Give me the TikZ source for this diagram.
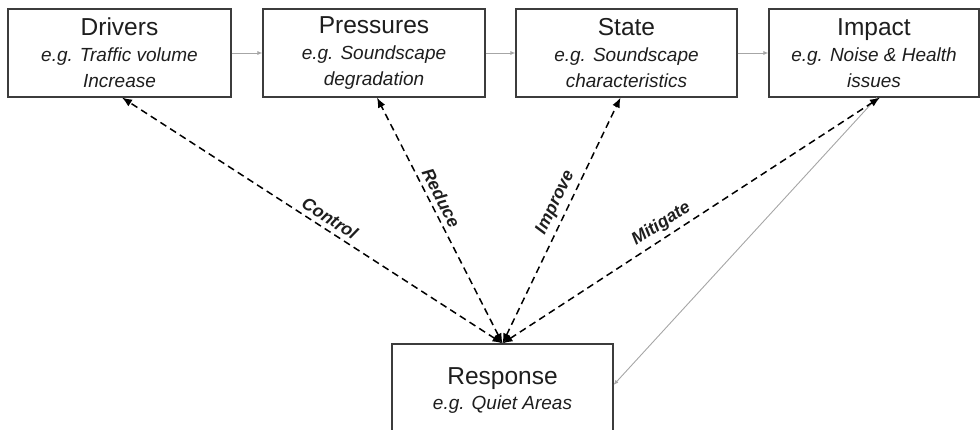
\documentclass[tikz,border=0pt]{standalone}
\usepackage{fontspec}
\setmainfont{Liberation Sans}
\usetikzlibrary{arrows.meta}
\definecolor{ink}{HTML}{1E1E1E}
\definecolor{frame}{HTML}{3C3C3C}
\definecolor{flowgray}{HTML}{A6A6A6}
\newcommand{\boxhead}[1]{{\upshape\fontsize{24.5}{26}\selectfont #1}}

\begin{document}
\begin{tikzpicture}[x=1pt,y=-1pt,
  dpsir/.style={draw=frame,line width=1.1pt,fill=white,text=ink,align=center,inner sep=0pt,
    minimum height=88pt,font=\fontsize{19}{26}\selectfont\itshape},
  flow/.style={draw=flowgray,line width=0.9pt,-{Latex[length=5pt,width=4pt]}},
  act/.style={draw=black,line width=1.5pt,dash pattern=on 7pt off 4.5pt,
    {Latex[length=10pt,width=8pt]}-{Latex[length=10pt,width=8pt]}},
  verb/.style={font=\fontsize{17.5}{19}\selectfont\bfseries\itshape,text=ink,sloped,above,inner sep=4.5pt}]
\useasboundingbox (0,0) rectangle (980,430);
% DPSIR boxes
\node[dpsir,minimum width=223pt] (drivers) at (119.5,53) {\boxhead{Drivers}\\e.g. Traffic volume\\Increase};
\node[dpsir,minimum width=222pt] (pressures) at (374,53) {\boxhead{Pressures}\\e.g. Soundscape\\degradation};
\node[dpsir,minimum width=221pt] (state) at (626.5,53) {\boxhead{State}\\e.g. Soundscape\\characteristics};
\node[dpsir,minimum width=210pt] (impact) at (874,53) {\boxhead{Impact}\\e.g. Noise \& Health\\issues};
\node[dpsir,minimum width=221pt,minimum height=94pt] (response) at (502.5,391) {\boxhead{Response}\\[-1pt]e.g. Quiet Areas};
% causal chain
\draw[flow] (drivers) -- (pressures);
\draw[flow] (pressures) -- (state);
\draw[flow] (state) -- (impact);
\draw[flow] ([xshift=3pt]impact.south) -- ([yshift=6pt]response.east);
% responses
\draw[act] (response.north) -- node[verb,pos=.47]{Control} ([xshift=2.5pt]drivers.south);
\draw[act] (response.north) -- node[verb,pos=.57]{Reduce} ([xshift=3pt]pressures.south);
\draw[act] (response.north) -- node[verb,pos=.55]{Improve} ([xshift=-6pt]state.south);
\draw[act] (response.north) -- node[verb,pos=.44]{Mitigate} ([xshift=6pt]impact.south);
\end{tikzpicture}
\end{document}
